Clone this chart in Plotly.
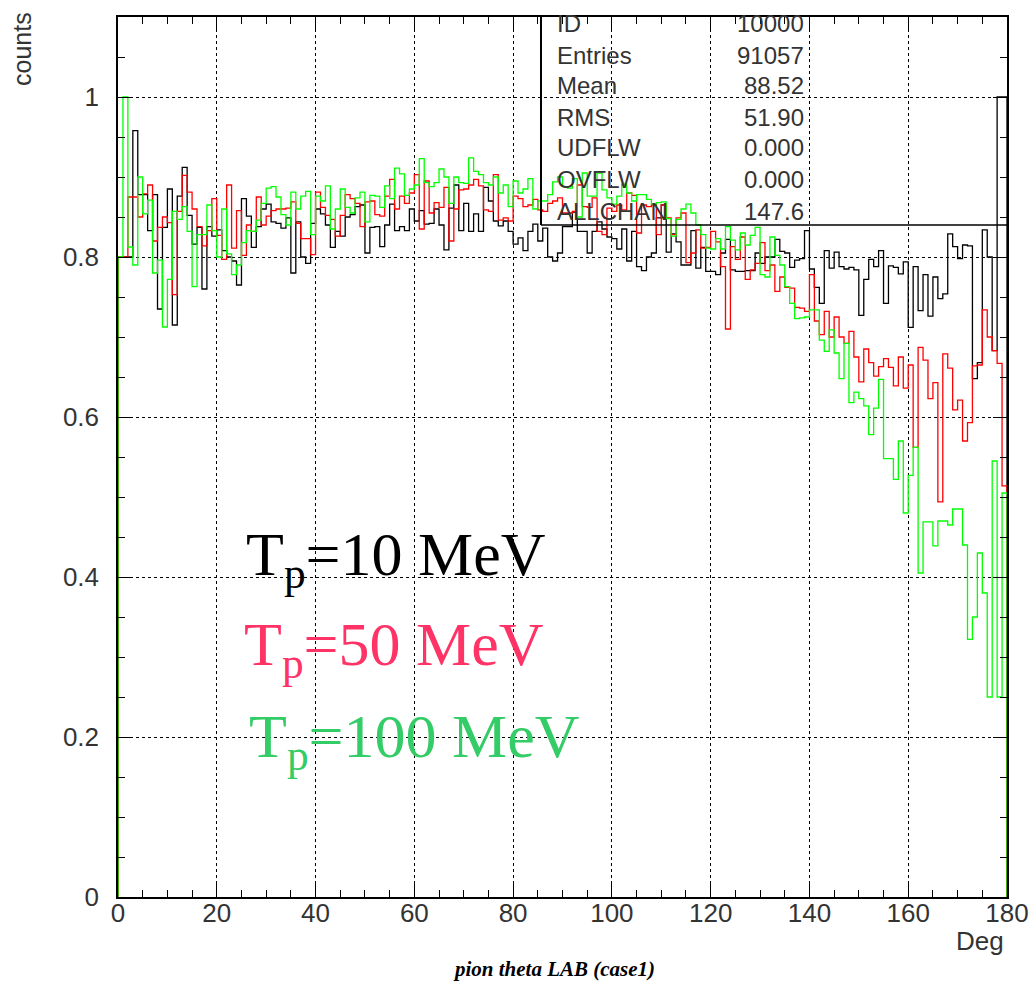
import numpy as np
import plotly.graph_objects as go

# ---------------- data (1-degree bins, 0..180 deg) ----------------
tp10 = [
    0.80, 0.80, 0.80, 0.958, 0.878, 0.878, 0.833, 0.878, 0.735, 0.837,
    0.885, 0.715, 0.876, 0.912, 0.852, 0.816, 0.837, 0.760, 0.838, 0.826,
    0.834, 0.808, 0.800, 0.795, 0.765, 0.873, 0.851, 0.812, 0.838, 0.860,
    0.866, 0.844, 0.842, 0.836, 0.849, 0.780, 0.844, 0.800, 0.792, 0.842,
    0.860, 0.854, 0.840, 0.812, 0.832, 0.826, 0.850, 0.853, 0.863, 0.865,
    0.805, 0.837, 0.838, 0.813, 0.840, 0.866, 0.833, 0.838, 0.833, 0.860,
    0.845, 0.858, 0.841, 0.842, 0.860, 0.840, 0.809, 0.861, 0.890, 0.833,
    0.867, 0.832, 0.854, 0.832, 0.887, 0.870, 0.845, 0.839, 0.845, 0.832,
    0.816, 0.824, 0.808, 0.832, 0.841, 0.820, 0.836, 0.800, 0.795, 0.805,
    0.838, 0.838, 0.856, 0.832, 0.832, 0.805, 0.832, 0.844, 0.835, 0.825,
    0.823, 0.810, 0.835, 0.795, 0.832, 0.788, 0.783, 0.800, 0.805, 0.849,
    0.865, 0.806, 0.829, 0.819, 0.790, 0.790, 0.833, 0.786, 0.812, 0.782,
    0.782, 0.778, 0.805, 0.822, 0.784, 0.782, 0.782, 0.783, 0.783, 0.805,
    0.792, 0.800, 0.800, 0.822, 0.807, 0.805, 0.787, 0.796, 0.798, 0.833,
    0.785, 0.762, 0.742, 0.808, 0.786, 0.806, 0.788, 0.785, 0.787, 0.784,
    0.727, 0.772, 0.797, 0.788, 0.808, 0.742, 0.789, 0.787, 0.779, 0.794,
    0.712, 0.788, 0.733, 0.778, 0.726, 0.775, 0.748, 0.754, 0.829, 0.813,
    0.798, 0.815, 0.814, 0.648, 0.668, 0.834, 0.800, 0.683, 1.000, 1.000,
]
tp50 = [
    0.80, 0.80, 0.875, 0.875, 0.850, 0.879, 0.890, 0.820, 0.837, 0.850,
    0.843, 0.753, 0.857, 0.902, 0.881, 0.860, 0.838, 0.814, 0.833, 0.873,
    0.827, 0.797, 0.890, 0.811, 0.858, 0.802, 0.840, 0.832, 0.875, 0.840,
    0.851, 0.858, 0.860, 0.860, 0.861, 0.869, 0.842, 0.823, 0.823, 0.803,
    0.881, 0.862, 0.852, 0.847, 0.826, 0.852, 0.878, 0.873, 0.867, 0.838,
    0.869, 0.870, 0.853, 0.851, 0.876, 0.897, 0.860, 0.876, 0.867, 0.880,
    0.903, 0.835, 0.895, 0.855, 0.868, 0.862, 0.887, 0.820, 0.860, 0.884,
    0.885, 0.890, 0.897, 0.889, 0.859, 0.857, 0.903, 0.846, 0.849, 0.845,
    0.876, 0.873, 0.863, 0.865, 0.872, 0.859, 0.857, 0.867, 0.870, 0.874,
    0.855, 0.855, 0.857, 0.890, 0.863, 0.862, 0.874, 0.832, 0.828, 0.861,
    0.857, 0.865, 0.859, 0.880, 0.877, 0.830, 0.865, 0.863, 0.865, 0.828,
    0.865, 0.849, 0.828, 0.849, 0.855, 0.793, 0.805, 0.834, 0.811, 0.812,
    0.832, 0.819, 0.788, 0.710, 0.813, 0.797, 0.825, 0.772, 0.784, 0.792,
    0.818, 0.783, 0.790, 0.757, 0.775, 0.762, 0.761, 0.737, 0.736, 0.732,
    0.778, 0.720, 0.703, 0.732, 0.700, 0.725, 0.700, 0.692, 0.707, 0.675,
    0.644, 0.685, 0.668, 0.651, 0.663, 0.673, 0.662, 0.639, 0.675, 0.636,
    0.665, 0.562, 0.687, 0.671, 0.623, 0.643, 0.494, 0.679, 0.661, 0.609,
    0.621, 0.570, 0.593, 0.664, 0.665, 0.734, 0.700, 0.683, 0.667, 0.514,
]
tp100 = [
    0.80, 1.000, 0.8125, 0.790, 0.900, 0.854, 0.871, 0.780, 0.796, 0.7125,
    0.772, 0.857, 0.847, 0.863, 0.832, 0.763, 0.828, 0.828, 0.865, 0.833,
    0.800, 0.860, 0.804, 0.778, 0.790, 0.818, 0.833, 0.832, 0.846, 0.867,
    0.886, 0.888, 0.875, 0.853, 0.840, 0.881, 0.860, 0.876, 0.882, 0.828,
    0.876, 0.870, 0.889, 0.835, 0.860, 0.885, 0.862, 0.855, 0.874, 0.881,
    0.844, 0.877, 0.876, 0.862, 0.889, 0.873, 0.911, 0.904, 0.877, 0.885,
    0.890, 0.923, 0.893, 0.888, 0.893, 0.910, 0.900, 0.867, 0.900, 0.893,
    0.892, 0.924, 0.907, 0.903, 0.893, 0.890, 0.900, 0.880, 0.890, 0.863,
    0.895, 0.880, 0.885, 0.898, 0.860, 0.870, 0.870, 0.878, 0.894, 0.900,
    0.888, 0.886, 0.898, 0.850, 0.905, 0.876, 0.876, 0.905, 0.884, 0.874,
    0.866, 0.876, 0.891, 0.880, 0.870, 0.878, 0.878, 0.872, 0.866, 0.868,
    0.869, 0.848, 0.826, 0.847, 0.860, 0.866, 0.855, 0.840, 0.828, 0.811,
    0.810, 0.823, 0.810, 0.838, 0.821, 0.809, 0.830, 0.815, 0.827, 0.837,
    0.778, 0.775, 0.825, 0.802, 0.790, 0.763, 0.742, 0.723, 0.724, 0.725,
    0.734, 0.734, 0.696, 0.682, 0.709, 0.680, 0.648, 0.692, 0.618, 0.631,
    0.623, 0.614, 0.578, 0.611, 0.647, 0.548, 0.548, 0.522, 0.570, 0.480,
    0.527, 0.562, 0.405, 0.469, 0.469, 0.439, 0.470, 0.470, 0.465, 0.485,
    0.485, 0.440, 0.322, 0.350, 0.430, 0.380, 0.250, 0.545, 0.250, 0.505,
]
x_range = [0, 180]
y_range = [0, 1.1]
stat_labels = ["ID", "Entries", "Mean", "RMS", "UDFLW", "OVFLW", "ALLCHAN"]
stat_values = ["10000", "91057", "88.52", "51.90", "0.000", "0.000", "147.6"]
legend_texts = ["T<sub>p</sub>=10 MeV", "T<sub>p</sub>=50 MeV", "T<sub>p</sub>=100 MeV"]

# ---------------- figure geometry ----------------
W, H = 1029, 984
ML, MR, MT, MB = 118, 22, 17, 87
PW, PH = W - ML - MR, H - MT - MB


def px(xp):
    return (xp - ML) / PW


def py(yp):
    return (H - MB - yp) / PH


def step(vals):
    vals = np.asarray(vals, dtype=float)
    edges = np.linspace(x_range[0], x_range[1], len(vals) + 1)
    xs = np.repeat(edges, 2)
    ys = np.concatenate([[0.0], np.repeat(vals, 2), [0.0]])
    return xs, ys


fig = go.Figure()
for vals, col in [(tp10, "#000000"), (tp50, "#ff0000"), (tp100, "#00ff00")]:
    xs, ys = step(vals)
    fig.add_trace(go.Scatter(x=xs, y=ys, mode="lines",
                             line=dict(color=col, width=1.3),
                             hoverinfo="skip", showlegend=False))

tickfont = dict(family="Liberation Sans Narrow, Liberation Sans, Arial", size=26, color="#333333")
axis_common = dict(
    showline=True, linecolor="black", linewidth=1.5, mirror="ticks",
    ticks="inside", ticklen=14, tickwidth=1.2, tickcolor="black",
    showgrid=True, gridcolor="black", griddash="dot", gridwidth=1,
    zeroline=False, tickfont=tickfont, automargin=False,
)
fig.update_xaxes(range=x_range, dtick=20, tick0=0, ticklabelstandoff=-8,
                 minor=dict(dtick=5, ticklen=7, ticks="inside", tickcolor="black",
                            tickwidth=1.2, showgrid=False),
                 **axis_common)
fig.update_yaxes(range=y_range, dtick=0.2, tick0=0, ticklabelstandoff=12,
                 minor=dict(dtick=0.05, ticklen=7, ticks="inside", tickcolor="black",
                            tickwidth=1.2, showgrid=False),
                 **axis_common)

annotations = []
# stats box text
row_y = [24, 55, 86, 117, 148, 180, 211]
statfont = dict(family="Liberation Sans, Arial", size=24, color="#333333")
for lab, val, yy in zip(stat_labels, stat_values, row_y):
    annotations.append(dict(x=px(555), y=py(yy), xref="paper", yref="paper",
                            text=lab, showarrow=False, xanchor="left", yanchor="middle",
                            font=statfont))
    annotations.append(dict(x=px(806), y=py(yy), xref="paper", yref="paper",
                            text=val, showarrow=False, xanchor="right", yanchor="middle",
                            font=statfont))

# energy labels
leg_cols = ["#000000", "#ff3366", "#33cc66"]
leg_pos = [(244, 599), (242, 689), (247, 781)]
for txt, col, (lx, ly) in zip(legend_texts, leg_cols, leg_pos):
    annotations.append(dict(x=px(lx), y=py(ly), xref="paper", yref="paper",
                            text=txt, showarrow=False, xanchor="left", yanchor="bottom",
                            font=dict(family="Liberation Serif, Times New Roman, serif",
                                      size=62, color=col)))

# axis titles
annotations.append(dict(x=px(22), y=py(49), xref="paper", yref="paper", text="counts",
                        showarrow=False, textangle=-90, xanchor="center", yanchor="middle",
                        font=dict(family="Liberation Sans, Arial", size=25, color="#333333")))
annotations.append(dict(x=px(1006), y=py(941), xref="paper", yref="paper", text="Deg",
                        showarrow=False, xanchor="right", yanchor="middle", font=tickfont))
annotations.append(dict(x=px(554), y=py(969), xref="paper", yref="paper",
                        text="<b><i>pion theta LAB (case1)</i></b>",
                        showarrow=False, xanchor="center", yanchor="middle",
                        font=dict(family="Liberation Serif, Times New Roman, serif",
                                  size=21, color="#000000")))

shapes = [
    dict(type="line", xref="paper", yref="paper", x0=px(541), x1=px(541),
         y0=py(225), y1=1, line=dict(color="black", width=2)),
    dict(type="line", xref="paper", yref="paper", x0=px(541), x1=1,
         y0=py(225), y1=py(225), line=dict(color="black", width=1.5)),
]

fig.update_layout(
    width=W, height=H, autosize=False,
    margin=dict(l=ML, r=MR, t=MT, b=MB, pad=0, autoexpand=False),
    paper_bgcolor="white", plot_bgcolor="white",
    annotations=annotations, shapes=shapes,
    showlegend=False,
)

fig.write_html("out.html",
               config={"responsive": False, "displayModeBar": False},
               post_script="document.body.style.margin='0';document.body.style.overflow='hidden';")
